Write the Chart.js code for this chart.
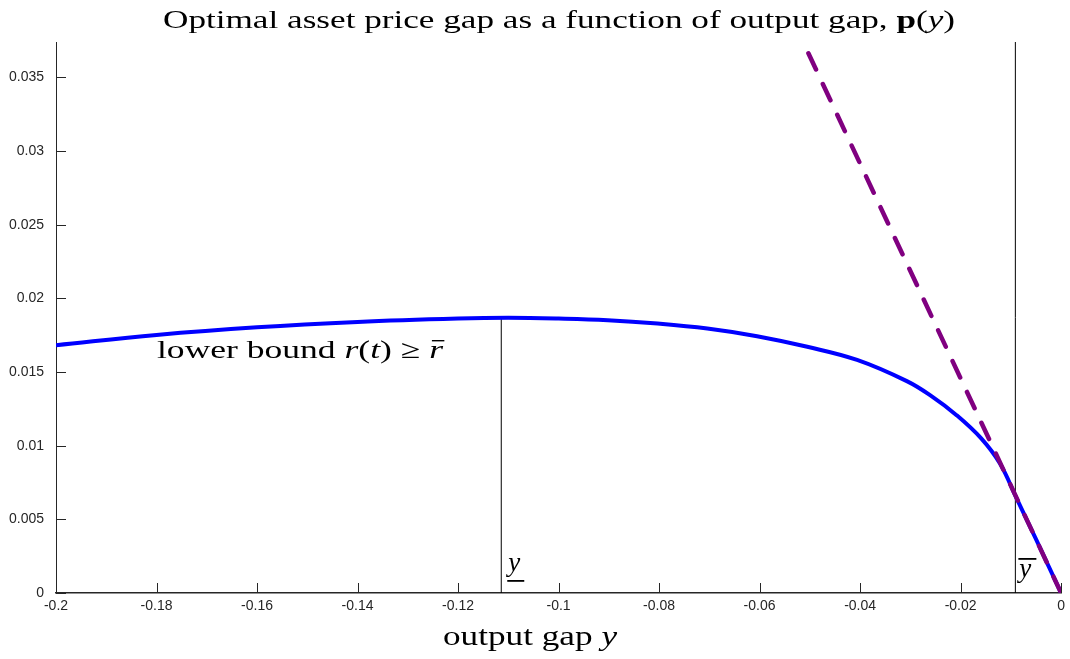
<!DOCTYPE html>
<html>
<head>
<meta charset="utf-8">
<script src="https://cdn.jsdelivr.net/npm/chart.js@4/dist/chart.umd.min.js"></script>
<style>
  html, body { margin: 0; padding: 0; background: #fff; }
  #wrap { width: 1070px; height: 659px; }
</style>
</head>
<body>
<div id="wrap"><canvas id="c" width="1070" height="659"></canvas></div>
<script>
// optimal asset price gap p(y)
const curveX = [-0.2, -0.18, -0.16, -0.14, -0.12, -0.11, -0.1, -0.0902, -0.0803, -0.0704, -0.0605,
                -0.0505, -0.0406, -0.0307, -0.0258, -0.0208, -0.0159, -0.0122, -0.0089, -0.005, 0];
const curveY = [0.01682, 0.01752, 0.01804, 0.0184, 0.01863, 0.01868, 0.01863, 0.01852, 0.01829, 0.01795, 0.01743,
                0.01671, 0.01582, 0.01438, 0.01336, 0.01207, 0.01049, 0.0088, 0.00645, 0.00365, 0];

// dashed tangent at y = 0
const tangentX = [0, -0.0549];
const tangentY = [0, 0.04];

// thresholds y_ (lower) and y-bar (upper)
const yLower = -0.1114;
const yLowerTop = 0.01868;
const yUpper = -0.0091;

const xTicks = [-0.2, -0.18, -0.16, -0.14, -0.12, -0.1, -0.08, -0.06, -0.04, -0.02, 0];
const yTicks = [0, 0.005, 0.01, 0.015, 0.02, 0.025, 0.03, 0.035];
const X_MIN = -0.2, X_MAX = 0, Y_MIN = 0, Y_MAX = 0.0374;

const SERIF = '"Liberation Serif", "DejaVu Serif", serif';
const AXIS_COL = '#262626';

const pts = (xs, ys) => xs.map((x, i) => ({ x: x, y: ys[i] }));

// draws text pieces side by side, stretched horizontally to a given width
function drawRich(ctx, parts, x0, base, width){
	let natural = 0;
	parts.forEach(p => {
		ctx.font = p.f;
		p.w = ctx.measureText(p.t).width;
		natural += p.w;
	});
	const sx = width / natural;
	ctx.save();
	ctx.translate(x0, base);
	ctx.scale(sx, 1);
	let x = 0;
	parts.forEach(p => {
		ctx.font = p.f;
		ctx.fillText(p.t, x, 0);
		if(p.over)
			ctx.fillRect(x + 2, -18, p.w - 1, 1.4);
		x += p.w;
	});
	ctx.restore();
}

const textPlugin = {
	id: 'texts',
	afterDraw(chart){
		const ctx = chart.ctx;
		const xs = chart.scales.x, ys = chart.scales.y;
		ctx.save();
		ctx.fillStyle = '#000';
		ctx.textAlign = 'left';
		ctx.textBaseline = 'alphabetic';

		// title
		drawRich(ctx, [
			{ t: 'Optimal asset price gap as a function of output gap, ', f: '26px ' + SERIF },
			{ t: 'p', f: 'bold 26px ' + SERIF },
			{ t: '(', f: '26px ' + SERIF },
			{ t: 'y', f: 'italic 26px ' + SERIF },
			{ t: ')', f: '26px ' + SERIF }
		], 163, 28, 792);

		// x axis label
		drawRich(ctx, [
			{ t: 'output gap ', f: '27px ' + SERIF },
			{ t: 'y', f: 'italic 27px ' + SERIF }
		], 443, 645, 174);

		// lower bound label
		drawRich(ctx, [
			{ t: 'lower bound ', f: '26px ' + SERIF },
			{ t: 'r', f: 'italic 26px ' + SERIF },
			{ t: '(', f: '26px ' + SERIF },
			{ t: 't', f: 'italic 26px ' + SERIF },
			{ t: ') \u2265 ', f: '26px ' + SERIF },
			{ t: 'r', f: 'italic 26px ' + SERIF, over: true }
		], 157, 358, 286);

		// y underlined
		const xl = xs.getPixelForValue(yLower);
		ctx.font = 'italic 27px ' + SERIF;
		ctx.fillText('y', xl + 7, 571);
		ctx.fillRect(xl + 6, 580, 17, 1.8);

		// y bar
		const xu = xs.getPixelForValue(yUpper);
		ctx.fillText('y', xu + 4, 577);
		ctx.fillRect(xu + 3, 558, 18, 1.8);

		// inward ticks
		ctx.strokeStyle = AXIS_COL;
		ctx.lineWidth = 1;
		const bottom = chart.chartArea.bottom, left = chart.chartArea.left;
		ctx.beginPath();
		xTicks.forEach(v => {
			const px = Math.round(xs.getPixelForValue(v)) + 0.5;
			ctx.moveTo(px, bottom);
			ctx.lineTo(px, bottom - 10);
		});
		yTicks.forEach(v => {
			const py = Math.round(ys.getPixelForValue(v)) + 0.5;
			ctx.moveTo(left, py);
			ctx.lineTo(left + 10, py);
		});
		ctx.stroke();
		ctx.restore();
	}
};

new Chart(document.getElementById('c'), {
	type: 'scatter',
	data: {
		datasets: [
			{
				label: 'tangent',
				data: pts(tangentX, tangentY),
				showLine: true,
				borderColor: '#800080',
				borderWidth: 4.5,
				borderDash: [18, 16],
				borderCapStyle: 'round',
				pointRadius: 0,
				order: 0
			},
			{
				label: 'p(y)',
				data: pts(curveX, curveY),
				showLine: true,
				borderColor: '#0000ff',
				borderWidth: 4,
				tension: 0.4,
				pointRadius: 0,
				order: 1
			},
			{
				label: 'y lower',
				data: [{ x: yLower, y: 0 }, { x: yLower, y: yLowerTop }],
				showLine: true,
				borderColor: '#000',
				borderWidth: 1,
				pointRadius: 0,
				order: 2
			},
			{
				label: 'y upper',
				data: [{ x: yUpper, y: 0 }, { x: yUpper, y: Y_MAX }],
				showLine: true,
				borderColor: '#000',
				borderWidth: 1,
				pointRadius: 0,
				order: 2
			}
		]
	},
	options: {
		responsive: false,
		animation: false,
		layout: { padding: { top: 42, right: 5, left: 0, bottom: 0 } },
		plugins: {
			legend: { display: false },
			title: { display: false },
			tooltip: { enabled: false }
		},
		scales: {
			x: {
				type: 'linear',
				min: X_MIN, max: X_MAX,
				grid: { display: false, drawTicks: false, tickLength: 0 },
				border: { display: true, color: AXIS_COL, width: 1.5 },
				afterBuildTicks: s => { s.ticks = xTicks.map(v => ({ value: v })); },
				afterFit: s => { s.height = 66; },
				ticks: {
					color: AXIS_COL,
					padding: 5,
					maxRotation: 0,
					autoSkip: false,
					font: { family: '"Liberation Sans", Arial, sans-serif', size: 14 },
					callback: v => String(Number(v.toFixed(2)))
				}
			},
			y: {
				type: 'linear',
				min: Y_MIN, max: Y_MAX,
				grid: { display: false, drawTicks: false, tickLength: 0 },
				border: { display: true, color: AXIS_COL, width: 1 },
				afterBuildTicks: s => { s.ticks = yTicks.map(v => ({ value: v })); },
				afterFit: s => { s.width = 56; },
				ticks: {
					color: AXIS_COL,
					padding: 12,
					autoSkip: false,
					font: { family: '"Liberation Sans", Arial, sans-serif', size: 14 },
					callback: v => String(Number(v.toFixed(3)))
				}
			}
		}
	},
	plugins: [textPlugin]
});
</script>
</body>
</html>
